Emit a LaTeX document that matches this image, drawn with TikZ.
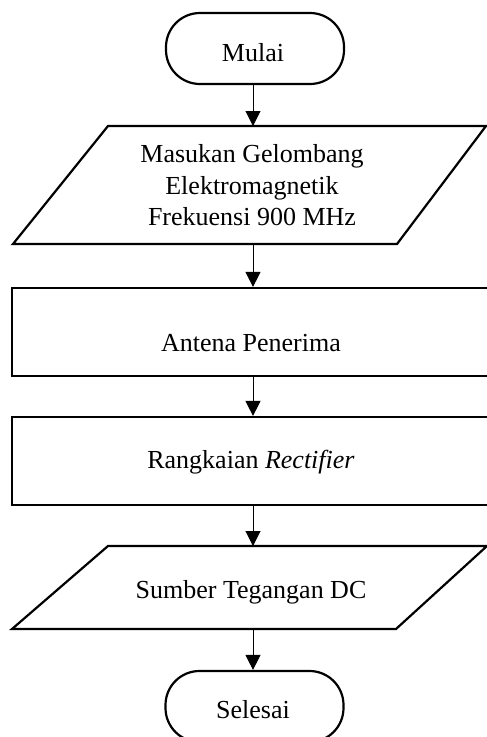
\documentclass[tikz,border=0pt]{standalone}
\usepackage{fontspec}
\setmainfont{Liberation Serif}
\usetikzlibrary{arrows.meta}
\begin{document}
\begin{tikzpicture}[x=1pt,y=-1pt,
  shapebox/.style={draw, line width=2.2pt, inner sep=0pt},
  term/.style={shapebox, rounded corners=34pt, minimum width=178pt, minimum height=71pt},
  procbox/.style={shapebox, minimum width=476pt, minimum height=88pt},
  io/.style={draw, line width=2.2pt, line join=miter},
  lbl/.style={font=\fontsize{26}{31.5}\selectfont, align=center, inner sep=0pt, anchor=base},
  arr/.style={-{Triangle[length=15pt,width=15pt]}, line width=1pt}]
\useasboundingbox (0,0) rectangle (487,737);
% terminators and process boxes
\node[term] (mulai) at (255,48.5) {};
\node[procbox] (antena) at (250,332) {};
\node[procbox] (rect) at (250,461) {};
\node[term] (selesai) at (254.5,706.5) {};
% input/output parallelograms
\draw[io] (108,126) -- (486,126) -- (397,244) -- (13,244) -- cycle;
\draw[io] (108,546) -- (487,546) -- (396,629) -- (12,629) -- cycle;
\coordinate (in1T) at (253,126);
\coordinate (in1B) at (253,244);
\coordinate (out1T) at (253,546);
\coordinate (out1B) at (253,629);
% texts
\node[lbl] (tmulai) at (253,61) {Mulai};
\node[lbl] (tin1) at (252,162.5) {Masukan Gelombang};
\node[lbl] (tin2) at (252,194) {Elektromagnetik};
\node[lbl] (tin3) at (252,225.5) {Frekuensi 900 MHz};
\node[lbl] (tantena) at (251,351) {Antena Penerima};
\node[lbl] (trect) at (251,468) {Rangkaian \textit{Rectifier}};
\node[lbl] (tout) at (251,598) {Sumber Tegangan DC};
\node[lbl] (tselesai) at (253,718) {Selesai};
% connectors
\draw[arr] (mulai.south -| in1T) -- (in1T);
\draw[arr] (in1B) -- (in1B |- antena.north);
\draw[arr] (antena.south -| in1B) -- (in1B |- rect.north);
\draw[arr] (rect.south -| out1T) -- (out1T);
\draw[arr] (out1B) -- (out1B |- selesai.north);
\end{tikzpicture}
\end{document}
